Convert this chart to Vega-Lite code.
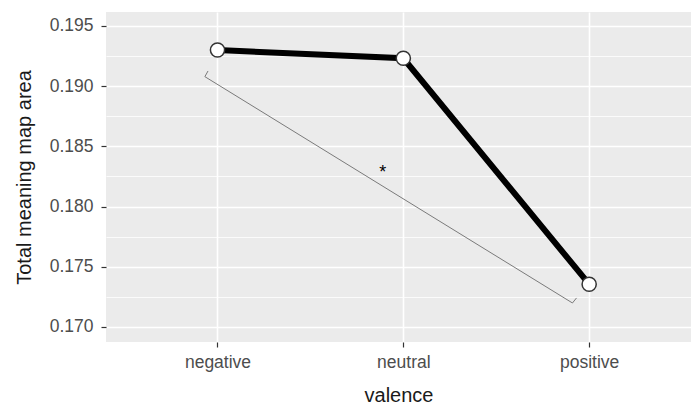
{
  "$schema": "https://vega.github.io/schema/vega-lite/v6.json",
  "width": 585,
  "height": 330,
  "autosize": {"type": "none"},
  "padding": {"left": 106, "top": 12, "right": 0, "bottom": 65},
  "background": "white",
  "config": {
    "view": {"fill": "#EBEBEB", "stroke": null},
    "font": "Liberation Sans"
  },
  "datasets": {
    "means": [
      {"valence": "negative", "pos": 1, "area": 0.1930},
      {"valence": "neutral", "pos": 2, "area": 0.19232},
      {"valence": "positive", "pos": 3, "area": 0.17355}
    ],
    "bracket": [
      {"order": 1, "pos": 0.949, "area": 0.19126},
      {"order": 2, "pos": 0.932, "area": 0.19079},
      {"order": 3, "pos": 2.910, "area": 0.17199},
      {"order": 4, "pos": 2.932, "area": 0.17241}
    ],
    "label": [{"pos": 1.889, "area": 0.18304, "text": "*"}]
  },
  "encoding": {
    "x": {
      "field": "pos",
      "type": "quantitative",
      "scale": {"domain": [0.4, 3.548], "nice": false, "zero": false},
      "axis": {
        "values": [1, 2, 3],
        "labelExpr": "datum.value == 1 ? 'negative' : datum.value == 2 ? 'neutral' : 'positive'",
        "title": "valence",
        "domain": false,
        "grid": true,
        "gridColor": "white",
        "gridWidth": 1.6,
        "tickColor": "#333333",
        "tickSize": 5,
        "tickWidth": 1.2,
        "labelFontSize": 17.5,
        "labelColor": "#4D4D4D",
        "labelPadding": 6,
        "titleFontSize": 20,
        "titleFontWeight": "normal",
        "titleColor": "#1A1A1A",
        "titlePadding": 15
      }
    },
    "y": {
      "field": "area",
      "type": "quantitative",
      "scale": {"domain": [0.16875, 0.19616], "nice": false, "zero": false},
      "axis": {
        "values": [0.17, 0.1725, 0.175, 0.1775, 0.18, 0.1825, 0.185, 0.1875, 0.19, 0.1925, 0.195],
        "labelExpr": "round(datum.value*2000) % 2 == 0 ? format(datum.value, '.3f') : ''",
        "title": "Total meaning map area",
        "domain": false,
        "grid": true,
        "gridColor": "white",
        "gridWidth": {"condition": {"test": "round(datum.value*2000) % 2 == 0", "value": 1.6}, "value": 0.8},
        "tickColor": "#333333",
        "tickSize": 5,
        "tickWidth": 1.2,
        "tickOpacity": {"condition": {"test": "round(datum.value*2000) % 2 == 0", "value": 1}, "value": 0},
        "labelFontSize": 17.5,
        "labelColor": "#4D4D4D",
        "labelPadding": 8,
        "titleFontSize": 20,
        "titleFontWeight": "normal",
        "titleColor": "#1A1A1A",
        "titlePadding": 15
      }
    }
  },
  "layer": [
    {
      "data": {"name": "bracket"},
      "mark": {"type": "line", "color": "#7A7A7A", "strokeWidth": 1},
      "encoding": {"order": {"field": "order", "type": "quantitative"}}
    },
    {
      "data": {"name": "label"},
      "mark": {"type": "text", "fontSize": 18, "color": "#000000", "baseline": "middle", "dy": 3},
      "encoding": {"text": {"field": "text"}}
    },
    {
      "data": {"name": "means"},
      "mark": {"type": "line", "color": "black", "strokeWidth": 6}
    },
    {
      "data": {"name": "means"},
      "mark": {"type": "point", "shape": "circle", "filled": true, "fill": "white", "stroke": "#333333", "strokeWidth": 1.5, "size": 200, "opacity": 1}
    }
  ]
}
